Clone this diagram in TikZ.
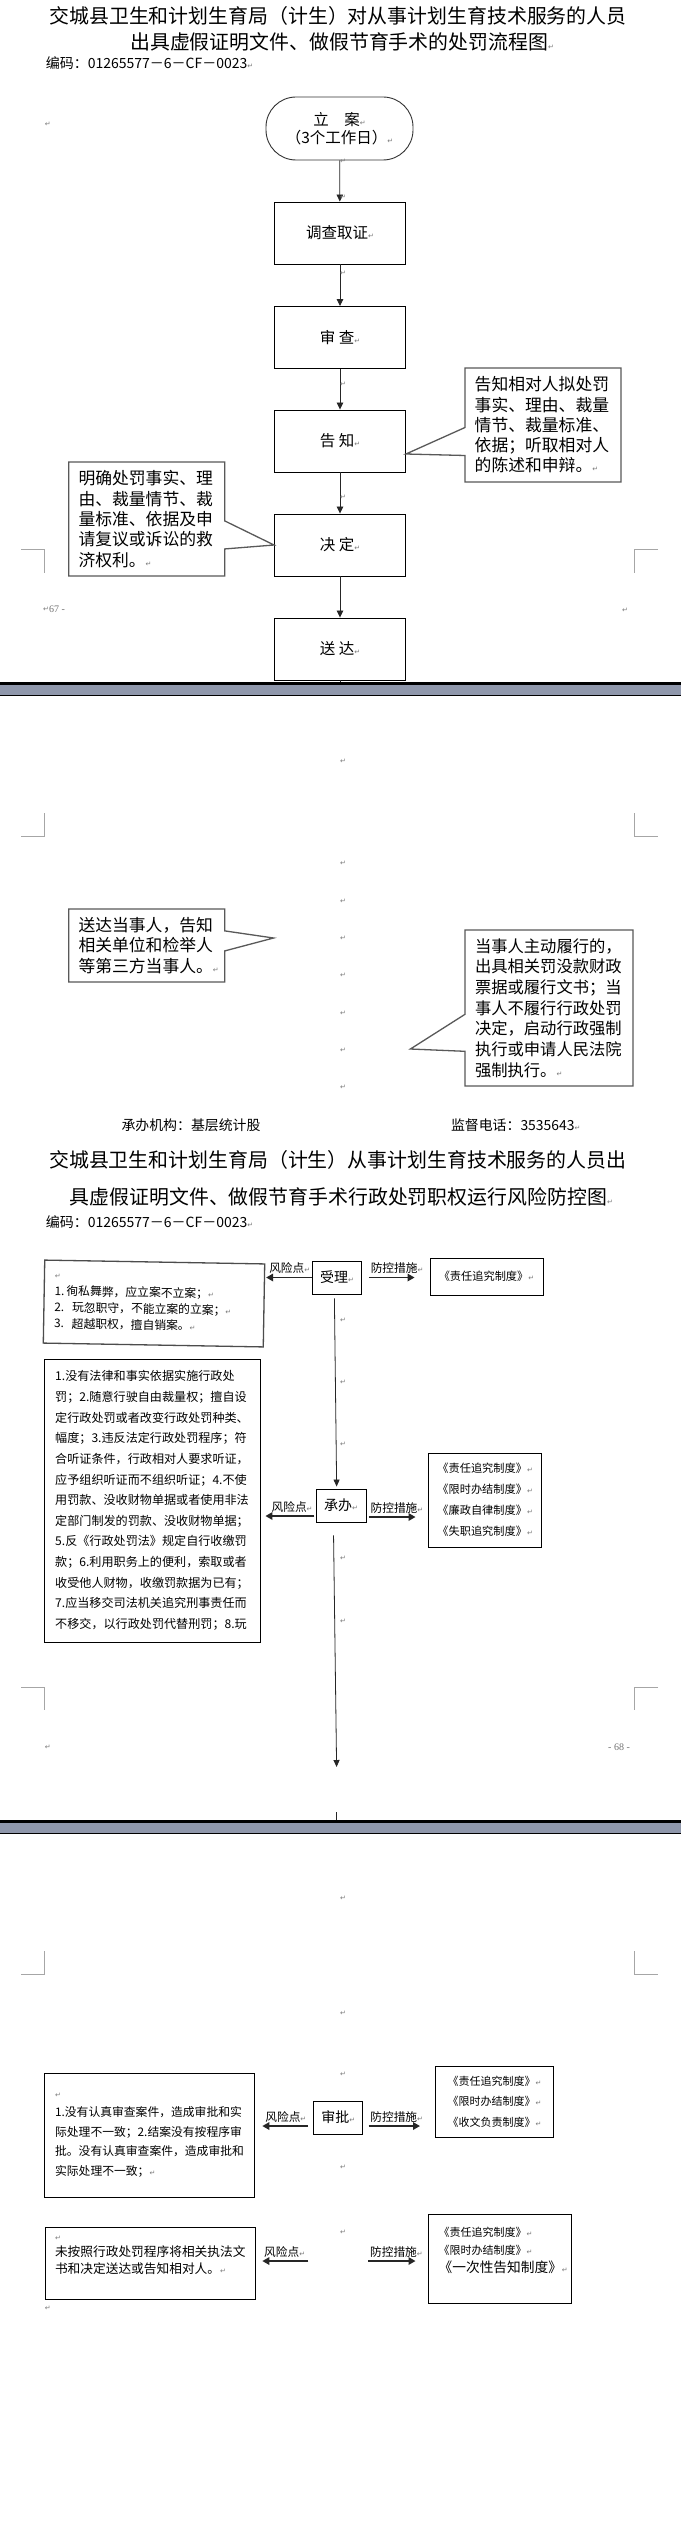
\documentclass[tikz,border=0pt]{standalone}
\usepackage{fontspec}
\setmainfont{Noto Sans CJK SC}
\newfontfamily\symfont{DejaVu Sans}
\newfontfamily\pagefont{Liberation Serif}
\usepackage{tikz}
\usetikzlibrary{shapes, shapes.callouts, arrows.meta, calc, positioning}
\definecolor{bandgray}{RGB}{143,151,171}
\definecolor{markgray}{RGB}{120,120,120}
\newcommand{\retmark}{{\symfont\fontsize{7pt}{7pt}\selectfont\textcolor{markgray}{↵}}}
\tikzstyle{headline} = [inner sep=0pt, font=\fontsize{19.9pt}{22pt}\selectfont]
\tikzstyle{codeline} = [inner sep=0pt, anchor=west, font=\fontsize{14pt}{16pt}\selectfont]
\tikzstyle{terminal} = [rectangle, rounded corners=30pt, draw=black!80, line width=0.9pt, minimum width=147pt, minimum height=63pt, inner sep=0pt, align=center, font=\fontsize{15.5pt}{18pt}\selectfont]
\tikzstyle{block} = [rectangle, draw=black, line width=0.9pt, minimum width=131pt, minimum height=62pt, inner sep=0pt, font=\fontsize{15.5pt}{18pt}\selectfont]
\tikzstyle{note} = [rectangle callout, draw=black!65, line width=1.3pt, fill=white, align=left, inner sep=0pt, callout pointer width=28pt, font=\fontsize{16.8pt}{20.3pt}\selectfont]
\tikzstyle{arrow} = [line width=0.8pt, draw=black!85, -{Triangle[length=7pt, width=6.5pt]}]
\tikzstyle{flowline} = [line width=0.8pt, draw=black!85]
\tikzstyle{taskbox} = [rectangle, draw=black, line width=0.9pt, minimum width=49pt, minimum height=33pt, inner sep=0pt, font=\fontsize{14pt}{16pt}\selectfont]
\tikzstyle{riskbox} = [rectangle, draw=black, line width=0.9pt, align=left, inner sep=0pt]
\tikzstyle{measurebox} = [rectangle, draw=black, line width=0.9pt, align=left, inner sep=0pt, font=\fontsize{11.2pt}{21pt}\selectfont]
\tikzstyle{riskarrow} = [line width=1.6pt, draw=black!85, -{Triangle[length=7pt, width=7.5pt]}]
\tikzstyle{tag} = [inner xsep=1pt, inner ysep=3pt, font=\fontsize{11.7pt}{13pt}\selectfont]
\tikzstyle{pmark} = [inner sep=0pt, text=markgray, font=\symfont\fontsize{7pt}{7pt}\selectfont]
\tikzstyle{cropmark} = [draw=black!35, line width=0.8pt]
\tikzstyle{footer} = [inner sep=0pt, font=\fontsize{13.9pt}{16pt}\selectfont]
\tikzstyle{pagenum} = [inner sep=0pt, anchor=west, text=black!55, font=\pagefont\fontsize{10pt}{12pt}\selectfont]

\begin{document}
\begin{tikzpicture}[x=1pt, y=-1pt]
    \fill[white] (0,0) rectangle (681,2534);
    \useasboundingbox (0,0) rectangle (681,2534);

    % page one: flow chart
    \node (titleA1) [headline] at (338,16) {交城县卫生和计划生育局（计生）对从事计划生育技术服务的人员};
    \node (titleA2) [headline, anchor=west] at (130,42) {出具虚假证明文件、做假节育手术的处罚流程图\retmark};
    \node (codeA) [codeline] at (45.6,63) {编码：01265577－6－CF－0023\retmark};

    \node (lian) [terminal] at (339.5,128.5) {立\hspace{1em}案\retmark\\（3个工作日）\retmark};
    \node (diaocha) [block] at (340,233) {调查取证\retmark};
    \node (shencha) [block] at (340,337.5) {审\ 查\retmark};
    \node (gaozhi) [block] at (340,441) {告\ 知\retmark};
    \node (jueding) [block] at (340,545) {决\ 定\retmark};
    \node (songda) [block] at (340,649) {送\ 达\retmark};
    \coordinate (breakA) at (340,682);

    \draw [arrow] (lian) -- (diaocha);
    \draw [arrow] (diaocha) -- (shencha);
    \draw [arrow] (shencha) -- (gaozhi);
    \draw [arrow] (gaozhi) -- (jueding);
    \draw [arrow] (jueding) -- (songda);
    \draw [flowline] (songda.south) -- (breakA);

    \node (notegz) [note, minimum width=156pt, minimum height=114pt, text width=136.6pt, callout absolute pointer={([yshift=-13pt]gaozhi.east)}] at (543,425) {告知相对人拟处罚\\事实、理由、裁量\\情节、裁量标准、\\依据；听取相对人\\的陈述和申辩。\retmark};
    \node (notejd) [note, minimum width=156pt, minimum height=114pt, text width=136.6pt, callout absolute pointer={(jueding.west)}] at (146.8,519) {明确处罚事实、理\\由、裁量情节、裁\\量标准、依据及申\\请复议或诉讼的救\\济权利。\retmark};

    \coordinate (sdtip) at (273.6,938);
    \coordinate (zxtip) at (410.4,1049);
    \node (notesd) [note, minimum width=156pt, minimum height=73pt, text width=136.6pt, callout pointer width=20pt, callout absolute pointer={(sdtip)}] at (146.8,945.5) {送达当事人，告知\\相关单位和检举人\\等第三方当事人。\retmark};
    \node (notezx) [note, minimum width=168pt, minimum height=156pt, text width=148pt, callout pointer width=37pt, font=\fontsize{16.3pt}{20.7pt}\selectfont, callout absolute pointer={(zxtip)}] at (549,1008) {当事人主动履行的，\\出具相关罚没款财政\\票据或履行文书；当\\事人不履行行政处罚\\决定，启动行政强制\\执行或申请人民法院\\强制执行。\retmark};

    \node (chengbanjg) [footer] at (191,1125) {承办机构：基层统计股};
    \node (jiandu) [footer, anchor=west] at (450.8,1125) {监督电话：3535643\retmark};

    % page breaks and crop marks
    \fill[black] (0,681.7) rectangle (681,685);
    \fill[bandgray] (0,685) rectangle (681,695.3);
    \draw[black, line width=1pt] (0,695.8) -- (681,695.8);
    \fill[black] (0,1820) rectangle (681,1822.8);
    \fill[bandgray] (0,1822.8) rectangle (681,1833);
    \draw[black, line width=1pt] (0,1833.5) -- (681,1833.5);

    \draw[cropmark] (21,549) -- (44.7,549) -- (44.7,573);
    \draw[cropmark] (658,549) -- (634,549) -- (634,573);
    \draw[cropmark] (44.7,813) -- (44.7,836) -- (21,836);
    \draw[cropmark] (634,813) -- (634,836) -- (658,836);
    \draw[cropmark] (21,1687) -- (44.7,1687) -- (44.7,1710);
    \draw[cropmark] (658,1687) -- (634,1687) -- (634,1710);
    \draw[cropmark] (44.7,1951) -- (44.7,1974) -- (21,1974);
    \draw[cropmark] (634,1951) -- (634,1974) -- (658,1974);

    \node (pageA) [pagenum] at (49,609) {67 -};
    \node (pageB) [pagenum] at (608,1747) {- 68 -};

    % paragraph marks
    \foreach \y in {161,197,273,384,497,761,863,901,938,975,1013,1050,1087,1320,1382,1444,1558,1621,1898,2013,2074,2167,2232}
        \node (pm\y) [pmark] at (343,\y) {↵};
    \node (pmA) [pmark] at (47.8,124) {↵};
    \node (pmB) [pmark] at (46,609) {↵};
    \node (pmC) [pmark] at (625,610) {↵};
    \node (pmD) [pmark] at (47.8,1747) {↵};
    \node (pmE) [pmark] at (47.8,2308) {↵};

    % page two: risk control chart
    \node (titleB1) [headline, anchor=west] at (49,1160) {交城县卫生和计划生育局（计生）从事计划生育技术服务的人员出};
    \node (titleB2) [headline, anchor=west] at (69.5,1197) {具虚假证明文件、做假节育手术行政处罚职权运行风险防控图\retmark};
    \node (codeB) [codeline] at (45.6,1222) {编码：01265577－6－CF－0023\retmark};

    \node (shouli) [taskbox] at (337,1277.5) {受理\retmark};
    \node (risk1) [riskbox, draw=black!70, line width=1.3pt, rotate=-1, minimum width=220pt, minimum height=83pt, text width=199pt, font=\fontsize{11.8pt}{16.3pt}\selectfont] at (154,1303.5) {\retmark\\1.\,徇私舞弊，应立案不立案；\retmark\\2.\ \ 玩忽职守，不能立案的立案；\retmark\\3.\ \ 超越职权，擅自销案。\retmark};
    \node (measure1) [measurebox, minimum width=113pt, minimum height=37pt] at (486.5,1276.5) {《责任追究制度》\retmark};
    \draw [riskarrow] (shouli.west) -- ($(shouli.west -| risk1.east)+(1.5,0)$) node[tag, pos=0, anchor=south east]{风险点\retmark};
    \draw [riskarrow] ($(shouli.east)+(7,0)$) -- ($(shouli.east -| measure1.west)+(-15,0)$) node[tag, pos=0, anchor=south west]{防控措施\retmark};

    \node (chengban) [taskbox, minimum width=50pt] at (341.15,1505.5) {承办\retmark};
    \draw [flowline, -{Triangle[length=7pt, width=6pt]}] ($(shouli.south)+(-2.6,4)$) -- ($(chengban.north)+(-4.5,-2)$);
    \node (risk2) [riskbox, minimum width=216.3pt, minimum height=283pt, text width=194.5pt, font=\fontsize{12.1pt}{20.65pt}\selectfont] at (152.45,1500.5) {1.没有法律和事实依据实施行政处\\罚；2.随意行驶自由裁量权；擅自设\\定行政处罚或者改变行政处罚种类、\\幅度；3.违反法定行政处罚程序；符\\合听证条件，行政相对人要求听证，\\应予组织听证而不组织听证；4.不使\\用罚款、没收财物单据或者使用非法\\定部门制发的罚款、没收财物单据；\\5.反《行政处罚法》规定自行收缴罚\\款；6.利用职务上的便利，索取或者\\收受他人财物，收缴罚款据为已有；\\7.应当移交司法机关追究刑事责任而\\不移交，以行政处罚代替刑罚；8.玩};
    \node (measure2) [measurebox, minimum width=113pt, minimum height=94pt] at (485.15,1500) {《责任追究制度》\retmark\\《限时办结制度》\retmark\\《廉政自律制度》\retmark\\《失职追究制度》\retmark};
    \draw [riskarrow] ($(chengban.west)+(-1.3,10.5)$) -- ($(chengban.west -| risk2.east)+(4.4,10.5)$) node[tag, pos=0, anchor=south east]{风险点\retmark};
    \draw [riskarrow] ($(chengban.east)+(2.2,11.5)$) -- ($(chengban.east -| measure2.west)+(-12.7,11.5)$) node[tag, pos=0, anchor=south west]{防控措施\retmark};

    \coordinate (chengbanend) at (336.6,1767);
    \coordinate (breakBtop) at (336.6,1812);
    \coordinate (breakB) at (336.6,1820);
    \draw [flowline, -{Triangle[length=7pt, width=6pt]}] ($(chengban.south)+(-7.6,13)$) -- (chengbanend);
    \draw [flowline] (breakBtop) -- (breakB);

    % page three
    \node (shenpi) [taskbox] at (338.3,2117.5) {审批\retmark};
    \node (risk3) [riskbox, minimum width=209.8pt, minimum height=124pt, text width=189pt, font=\fontsize{11.8pt}{19.5pt}\selectfont] at (149.6,2135) {\retmark\\1.没有认真审查案件，造成审批和实\\际处理不一致；2.结案没有按程序审\\批。没有认真审查案件，造成审批和\\实际处理不一致；\retmark};
    \node (measure3) [measurebox, minimum width=118pt, minimum height=71pt, font=\fontsize{11pt}{20.5pt}\selectfont] at (494.65,2101.5) {《责任追究制度》\retmark\\《限时办结制度》\retmark\\《收文负责制度》\retmark};
    \draw [riskarrow] ($(shenpi.west)+(-5.2,8.5)$) -- ($(shenpi.west -| risk3.east)+(7.4,8.5)$) node[tag, pos=0, anchor=south east]{风险点\retmark};
    \draw [riskarrow] ($(shenpi.east)+(5.3,8.5)$) -- ($(shenpi.east -| measure3.west)+(-15.2,8.5)$) node[tag, pos=0, anchor=south west]{防控措施\retmark};

    \coordinate (sdrow) at (338.3,2261);
    \node (risk4) [riskbox, minimum width=209.8pt, minimum height=72pt, text width=191pt, font=\fontsize{12.7pt}{16.5pt}\selectfont] at (150.5,2263) {\retmark\\未按照行政处罚程序将相关执法文\\书和决定送达或告知相对人。\retmark\\~};
    \node (measure4) [measurebox, minimum width=143pt, minimum height=89pt, text width=123pt, font=\fontsize{11pt}{18pt}\selectfont] at (500.15,2258.5) {《责任追究制度》\retmark\\《限时办结制度》\retmark\\{\fontsize{13.7pt}{18pt}\selectfont 《一次性告知制度》}\retmark\\~};
    \draw [riskarrow] ($(sdrow)+(-29.9,0)$) -- ($(sdrow -| risk4.east)+(6.5,0)$) node[tag, pos=1, anchor=south west]{风险点\retmark};
    \draw [riskarrow] ($(sdrow)+(30,0)$) -- ($(sdrow -| measure4.west)+(-12.7,0)$) node[tag, pos=0, anchor=south west]{防控措施\retmark};
\end{tikzpicture}
\end{document}
